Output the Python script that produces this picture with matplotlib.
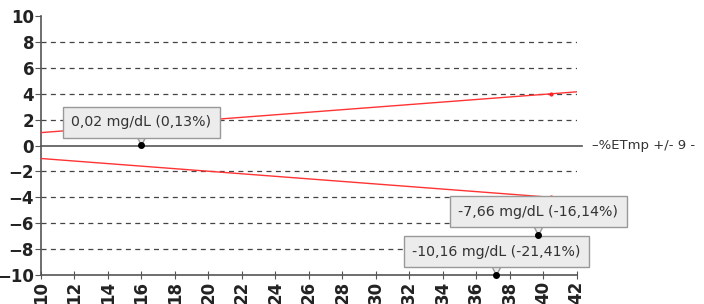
import numpy as np
import matplotlib.pyplot as plt
from matplotlib.transforms import offset_copy

# --- dados ---
limite_sup_x = [10, 40.5, 42]
limite_sup_y = [1.0, 4.0, 4.15]
limite_inf_x = [10, 40.5]
limite_inf_y = [-1.0, -4.0]

pontos_x = [16, 39.7, 37.2]
pontos_y = [0.02, -6.9, -10.0]
rotulos = ['0,02 mg/dL (0,13%)', '-7,66 mg/dL (-16,14%)', '-10,16 mg/dL (-21,41%)']

yticks = list(range(-10, 11, 2))
xticks = list(range(10, 43, 2))
legenda = '–%ETmp +/- 9 -'

# --- figura ---
fig = plt.figure(figsize=(7.04, 3.04), dpi=100)
ax = fig.add_axes([0.0582, 0.0954, 0.7608, 0.8516])
ax.set_xlim(10, 42)
ax.set_ylim(-10, 10)

for y in yticks:
    if y in (-10, 0, 10):
        continue
    ax.axhline(y, color='#444444', lw=0.9, ls=(0, (4, 3.5)), zorder=1)

# linha do zero (passa um pouco da borda)
ax.plot([10, 42.35], [0, 0], color='#555555', lw=1.2, clip_on=False, zorder=2)

ax.plot(limite_sup_x, limite_sup_y, color='#ff3333', lw=1, zorder=3)
ax.plot(limite_inf_x, limite_inf_y, color='#ff3333', lw=1, zorder=3)
ax.plot([limite_sup_x[1], limite_inf_x[1]], [limite_sup_y[1], limite_inf_y[1]],
        'o', color='#ff2222', ms=2, zorder=3)

ax.plot(pontos_x, pontos_y, 'o', color='black', ms=4, clip_on=False, zorder=8)

# caixinhas tipo tooltip, com a setinha embaixo (a caixa cobre a parte de cima)
seta = offset_copy(ax.transData, fig=fig, x=0, y=6, units='dots')
for px, py, txt in zip(pontos_x, pontos_y, rotulos):
    ax.plot(px, py, marker='v', ms=8, mfc='#ececec', mec='#999999', mew=1,
            transform=seta, clip_on=False, zorder=6)
    ax.annotate(txt, xy=(px, py), xytext=(0, 23), textcoords='offset pixels',
                ha='center', va='center', fontsize=10.2, color='#333333',
                bbox=dict(boxstyle='square,pad=0.6', fc='#ececec', ec='#999999', lw=1),
                zorder=7)

fig.text(592 / 704, 1 - 145 / 304, legenda, fontsize=9.5, color='#333333',
         ha='left', va='center')

ax.spines['top'].set_visible(False)
ax.spines['right'].set_visible(False)
for s in ('left', 'bottom'):
    ax.spines[s].set_color('#555555')
    ax.spines[s].set_linewidth(1.2)

ax.set_yticks(yticks)
ax.set_xticks(xticks)
ax.tick_params(axis='y', direction='out', length=4, color='#555555', pad=1,
               labelsize=12, labelcolor='#222222')
ax.tick_params(axis='x', direction='inout', length=6, color='#555555', pad=1,
               labelsize=12, labelcolor='#222222', labelrotation=90)
for lab in ax.get_xticklabels() + ax.get_yticklabels():
    lab.set_fontweight('bold')

fig.savefig('out.png', dpi=100)
